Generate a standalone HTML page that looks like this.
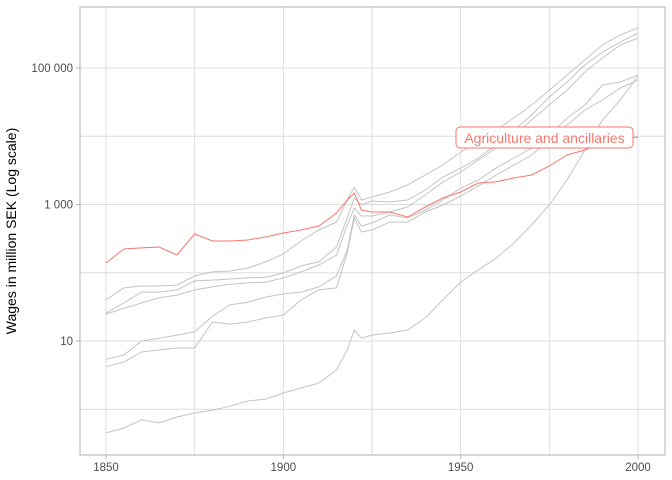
<!DOCTYPE html>
<html><head><meta charset="utf-8"><style>
body{margin:0;background:#fff;}
svg{display:block;font-family:"Liberation Sans",sans-serif;}
</style></head><body>
<svg id="chart" width="672" height="480">
<rect x="0" y="0" width="672" height="480" fill="#fff"/>
<g id="grid"></g><g id="series"></g><g id="axes"></g>
<text x="16" y="231" transform="rotate(-90 16 231)" text-anchor="middle" font-size="14" fill="#000">Wages in million SEK (Log scale)</text>
</svg>
<script>
const years=[1850,1855,1860,1865,1870,1875,1880,1885,1890,1895,1900,1905,1910,1915,1918,1920,1922,1925,1930,1935,1940,1945,1950,1955,1960,1965,1970,1975,1980,1985,1990,1995,2000];
const agriculture=[139,223,231,238,182,370,292,292,302,334,382,423,484,750,1160,1470,830,776,776,656,918,1245,1525,2065,2140,2445,2705,3665,5310,6290,8240,9120,9750];
const sector1=[40,60,64,64,66,90,103,106,117,144,188,292,423,553,1165,1800,1165,1290,1525,1930,2700,3790,5880,8220,12300,18500,28700,47500,78900,131000,217000,304000,385000];
const sector2=[25.7,36,52,52,56,76,78,81,84,86,99,126,144,238,634,1245,982,1125,1087,1165,1630,2530,3420,4800,7430,12300,20500,37600,62400,111000,171000,240000,325000];
const sector3=[24.8,30,36,43,47,56,62,68,71,73,84,103,130,182,500,887,678,678,776,918,1380,2130,2990,4490,6720,10400,17300,28700,47500,87300,140000,217000,275000];
const sector4=[5.4,6.2,10,11,12.2,13.6,23,34,37,44,49,52,62,90,215,702,484,536,702,634,830,1165,1740,2290,3420,4800,6720,10400,18500,28700,56400,62400,78900];
const sector5=[4.2,4.9,6.9,7.4,7.9,7.9,19,17.7,19,21.7,24,40,56,60,195,634,395,423,553,553,776,982,1330,1870,2700,3790,5310,8810,14600,24200,34000,50900,66700];
const sector6=[0.45,0.53,0.7,0.63,0.77,0.88,0.97,1.11,1.32,1.41,1.73,2.05,2.42,3.76,7.4,14.5,11,12.2,13.1,14.5,21.7,40,73,110,164,273,500,982,2290,6280,17300,34000,76200];
const xTicks=[1850,1900,1950,2000];
const xMinor=[1875,1925,1975];
const yTicks=[10,1000,100000];
const yTickLabels=["10","1 000","100 000"];
const yMinor=[1,100,10000];

const NS="http://www.w3.org/2000/svg";
const L=80,R=665,T=7,B=455;
function xs(v){return 106+(v-1850)*(638-106)/150;}
function ys(v){return 68+(5-Math.log10(v))*68.25;}
function mk(tag,attrs,parent){const e=document.createElementNS(NS,tag);for(const k in attrs)e.setAttribute(k,attrs[k]);parent.appendChild(e);return e;}
const grid=document.getElementById('grid'),ser=document.getElementById('series'),ax=document.getElementById('axes');
xMinor.concat(xTicks).forEach(t=>{const l=mk('line',{x1:xs(t),x2:xs(t),y1:T,y2:B,stroke:'#dedede','stroke-width':1},grid);

});
yMinor.concat(yTicks).forEach(t=>{const l=mk('line',{x1:L,x2:R,y1:ys(t),y2:ys(t),stroke:'#dedede','stroke-width':1},grid);

});
const border=mk('rect',{x:L,y:T,width:R-L,height:B-T,fill:'none',stroke:'#b3b3b3','stroke-width':1},ax);


xTicks.forEach(t=>{const tk=mk('line',{x1:xs(t),x2:xs(t),y1:B,y2:B+4,stroke:'#b3b3b3'},ax);


const tx=mk('text',{x:xs(t),y:B+16,'text-anchor':'middle','font-size':11.5,fill:'#4d4d4d'},ax);tx.textContent=t;

});
yTicks.forEach((t,i)=>{const tk=mk('line',{x1:L-4,x2:L,y1:ys(t),y2:ys(t),stroke:'#b3b3b3'},ax);


const tx=mk('text',{x:L-7,y:ys(t)+4,'text-anchor':'end','font-size':11.5,fill:'#4d4d4d'},ax);tx.textContent=yTickLabels[i];

});
function path(vals){return vals.map((v,i)=>(i?'L':'M')+xs(years[i]).toFixed(1)+','+ys(v).toFixed(1)).join('');}
[sector1,sector2,sector3,sector4,sector5,sector6].forEach((s,i)=>{const p=mk('path',{d:path(s),fill:'none',stroke:'#c4c4c4','stroke-width':1},ser);

});
const ag=mk('path',{d:path(agriculture),fill:'none',stroke:'#f8766d','stroke-width':1},ser);


const lb=mk('g',{},ser);


mk('rect',{x:456,y:127,width:177,height:21,rx:4,fill:'#fff',stroke:'#f8766d','stroke-width':1},lb);
const lt=mk('text',{x:544.5,y:143,'text-anchor':'middle','font-size':14,fill:'#f8766d'},lb);lt.textContent='Agriculture and ancillaries';
</script>
</body></html>
